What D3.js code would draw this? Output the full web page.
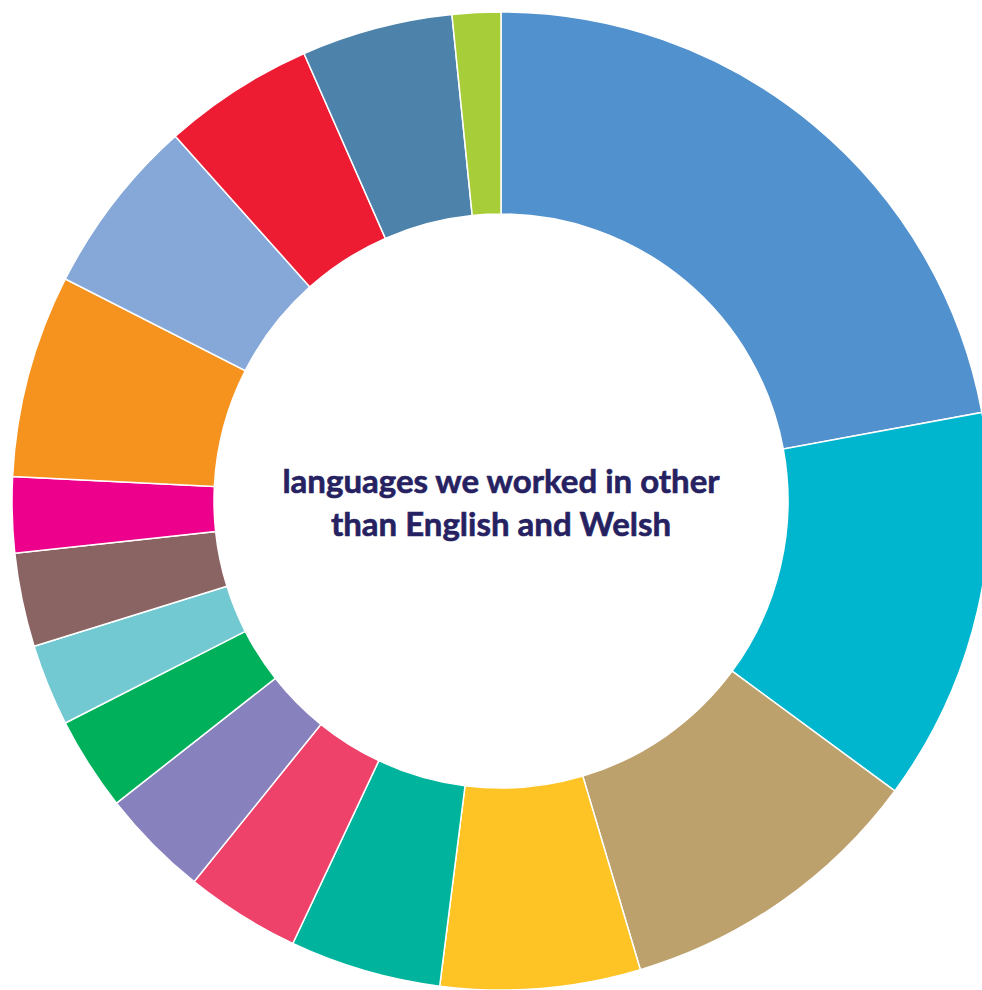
<!DOCTYPE html>
<html>
<head>
<meta charset="utf-8">
<script src="https://cdn.jsdelivr.net/npm/d3@7"></script>
<style>
  html, body { margin: 0; padding: 0; background: #fff; }
</style>
</head>
<body>
<svg id="chart" width="982" height="990"></svg>
<script>
// slices clockwise from 12 o'clock (share of languages, %)
const categories = ["lang1","lang2","lang3","lang4","lang5","lang6","lang7","lang8",
  "lang9","lang10","lang11","lang12","lang13","lang14","lang15","lang16"];
const values = [22.1, 13.0, 10.3, 6.6, 5.0, 3.8, 3.6, 3.1, 2.7, 3.1, 2.5, 6.7, 5.9, 5.0, 5.0, 1.6];
const colors = ["#5191cd","#00b5ce","#bca16c","#fec324","#00b39c","#ef426b","#8781bd","#00b05a",
  "#72c9d2","#8a6462","#ec008c","#f6921e","#85a8d9","#ed1c33","#4d83ab","#a7ce39"];
const titleLines = ["languages we worked in other", "than English and Welsh"];

const svg = d3.select("#chart");
const cx = 501, cy = 501;

const pie = d3.pie().sort(null).value(d => d);
const arc = d3.arc().innerRadius(287).outerRadius(489);

const g = svg.append("g").attr("transform", `translate(${cx},${cy})`);

g.selectAll("path.slice")
  .data(pie(values))
  .enter()
  .append("path")
  .attr("class","slice")
  .attr("d", arc)
  .attr("fill", (d,i) => colors[i])
  .attr("stroke","#fff")
  .attr("stroke-width",1.5)
  .append("title")
  .text((d,i) => categories[i]);

g.selectAll("text.label")
  .data(titleLines)
  .enter()
  .append("text")
  .attr("class","label")
  .attr("x",0)
  .attr("y",(d,i) => -8 + i*43)
  .attr("text-anchor","middle")
  .attr("font-family","Lato, 'Open Sans', sans-serif")
  .attr("font-weight",700)
  .attr("font-size",33)
  .attr("fill","#262262")
  .attr("stroke","#262262")
  .attr("stroke-width",0.6)
  .text(d => d);
</script>
</body>
</html>
